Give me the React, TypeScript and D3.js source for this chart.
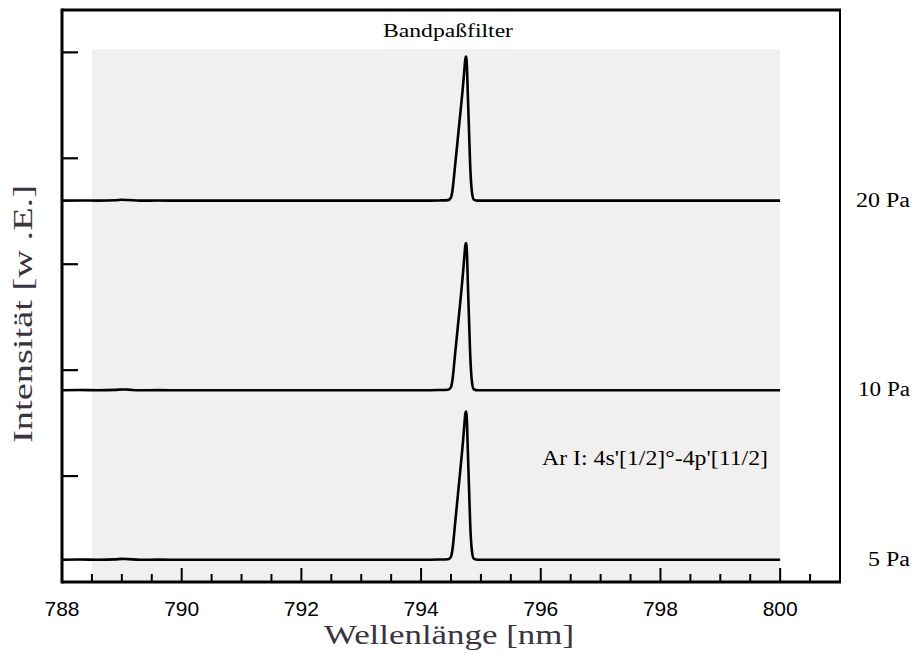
import React, { useEffect } from "react";
import * as d3 from "d3";

// Emission spectra around the Ar I 794.8 nm line at three pressures,
// drawn with a vertical offset per pressure.
const wavelengths = [
  788.0, 788.3, 788.6, 788.9, 789.0, 789.1, 789.3, 789.6, 790.0, 790.5, 791.0,
  791.5, 792.0, 792.5, 793.0, 793.5, 794.0, 794.3, 794.45, 794.5, 794.52,
  794.57, 794.63, 794.69, 794.72, 794.74, 794.75, 794.76, 794.77, 794.78,
  794.8, 794.82, 794.85, 794.88, 794.95, 795.5, 796.0, 796.5, 797.0, 797.5,
  798.0, 798.5, 799.0, 799.5, 800.0,
];

const pressures = ["5 Pa", "10 Pa", "20 Pa"];
const offsets = [0.21, 1.81, 3.6];

const intensity5Pa = [
  0.0, 0.002, 0.0, 0.004, 0.008, 0.006, 0.0, 0.001, 0.0, 0.0, 0.0, 0.0, 0.0,
  0.0, 0.0, 0.0, 0.0, 0.002, 0.005, 0.03, 0.08, 0.35, 0.7, 1.05, 1.25, 1.38,
  1.4, 1.37, 1.25, 1.05, 0.7, 0.35, 0.08, 0.01, 0.0, 0.0, 0.0, 0.0, 0.0, 0.0,
  0.0, 0.0, 0.0, 0.0, 0.0,
];
const intensity10Pa = [
  0.0, 0.002, 0.0, 0.004, 0.008, 0.006, 0.0, 0.001, 0.0, 0.0, 0.0, 0.0, 0.0,
  0.0, 0.0, 0.0, 0.0, 0.002, 0.005, 0.03, 0.08, 0.35, 0.69, 1.04, 1.24, 1.37,
  1.39, 1.36, 1.24, 1.04, 0.69, 0.35, 0.08, 0.01, 0.0, 0.0, 0.0, 0.0, 0.0, 0.0,
  0.0, 0.0, 0.0, 0.0, 0.0,
];
const intensity20Pa = [
  0.0, 0.002, 0.0, 0.004, 0.008, 0.006, 0.0, 0.001, 0.0, 0.0, 0.0, 0.0, 0.0,
  0.0, 0.0, 0.0, 0.0, 0.002, 0.005, 0.03, 0.08, 0.34, 0.68, 1.02, 1.21, 1.34,
  1.36, 1.33, 1.21, 1.02, 0.68, 0.34, 0.08, 0.01, 0.0, 0.0, 0.0, 0.0, 0.0, 0.0,
  0.0, 0.0, 0.0, 0.0, 0.0,
];
const seriesIntensities = [intensity5Pa, intensity10Pa, intensity20Pa];

// Band-pass filter window
const bandRange = [788.5, 800];
const bandTop = 5.03;

const xDomain = [788, 801];
const yDomain = [0, 5.4];
const xTickLabels = [788, 790, 792, 794, 796, 798, 800];
const xMinorTicks = d3.range(788.5, 801, 0.5);
const yTicks = [1, 2, 3, 4, 5];

const W = 916;
const H = 654;
const plot = { left: 62, right: 840, top: 10, bottom: 582 };

export default function App() {
  useEffect(() => {
    document.body.style.margin = "0";
  }, []);

  const x = d3.scaleLinear().domain(xDomain).range([plot.left, plot.right]);
  const y = d3.scaleLinear().domain(yDomain).range([plot.bottom, plot.top]);

  const line = d3
    .line<[number, number]>()
    .x((d) => x(d[0]))
    .y((d) => y(d[1]))
    .curve(d3.curveMonotoneX);

  const serif = "'Liberation Serif', 'Times New Roman', serif";
  const sans = "'Liberation Sans', Arial, sans-serif";
  const labelColor = "#3a3440";

  const pressureLabels = [
    { text: pressures[0], len: 42 },
    { text: pressures[1], len: 52 },
    { text: pressures[2], len: 54 },
  ];

  return (
    <svg width={W} height={H} style={{ display: "block", background: "#fff" }}>
      {/* filter pass band */}
      <rect
        x={x(bandRange[0])}
        y={y(bandTop)}
        width={x(bandRange[1]) - x(bandRange[0])}
        height={y(0) - y(bandTop)}
        fill="#f1f0ef"
      />

      {/* spectra */}
      {seriesIntensities.map((vals, i) => (
        <path
          key={pressures[i]}
          d={
            line(
              wavelengths.map((w, j) => [w, vals[j] + offsets[i]] as [number, number])
            ) || ""
          }
          fill="none"
          stroke="#000"
          strokeWidth={2.6}
          strokeLinejoin="round"
        />
      ))}

      {/* frame */}
      <line x1={plot.right} x2={plot.right} y1={plot.top} y2={plot.bottom} stroke="#000" strokeWidth={2} />
      <line x1={plot.left} x2={plot.right + 1} y1={plot.top} y2={plot.top} stroke="#000" strokeWidth={3} />
      <line x1={plot.left} x2={plot.right + 1} y1={plot.bottom} y2={plot.bottom} stroke="#000" strokeWidth={3} />
      <line x1={plot.left} x2={plot.left} y1={plot.top - 1.5} y2={plot.bottom + 1.5} stroke="#000" strokeWidth={3} />

      {/* x ticks (inward) */}
      {xMinorTicks.map((t) => {
        const major = Math.abs(t % 2) < 1e-9;
        return (
          <line
            key={t}
            x1={x(t)}
            x2={x(t)}
            y1={plot.bottom}
            y2={plot.bottom - (major ? 14 : 8)}
            stroke="#000"
            strokeWidth={2}
          />
        );
      })}
      {xTickLabels.map((t) => (
        <text
          key={t}
          x={x(t)}
          y={616}
          textAnchor="middle"
          fontFamily={sans}
          fontSize={21}
          fill="#000"
        >
          {t}
        </text>
      ))}

      {/* y ticks (inward, unlabeled) */}
      {yTicks.map((t) => (
        <line
          key={t}
          x1={plot.left}
          x2={plot.left + 16}
          y1={y(t)}
          y2={y(t)}
          stroke="#000"
          strokeWidth={2.2}
        />
      ))}

      {/* axis titles */}
      <text
        x={449}
        y={644}
        textAnchor="middle"
        fontFamily={serif}
        fontSize={27}
        fill={labelColor}
        textLength={250}
        lengthAdjust="spacingAndGlyphs"
      >
        Wellenlänge [nm]
      </text>
      <text
        transform={`translate(32, 314) rotate(-90)`}
        textAnchor="middle"
        fontFamily={serif}
        fontSize={27}
        fill={labelColor}
        textLength={258}
        lengthAdjust="spacingAndGlyphs"
      >
        Intensität  [w .E.]
      </text>

      {/* annotations */}
      <text
        x={448}
        y={37}
        textAnchor="middle"
        fontFamily={serif}
        fontSize={19}
        fill="#000"
        textLength={130}
        lengthAdjust="spacingAndGlyphs"
      >
        Bandpaßfilter
      </text>
      <text
        x={542}
        y={465}
        fontFamily={serif}
        fontSize={20}
        fill="#000"
        textLength={226}
        lengthAdjust="spacingAndGlyphs"
      >
        Ar I: 4s'[1/2]°-4p'[11/2]
      </text>

      {/* pressure labels beside each spectrum */}
      {pressureLabels.map((p, i) => (
        <text
          key={p.text}
          x={910}
          y={y(offsets[i]) + 6}
          textAnchor="end"
          fontFamily={serif}
          fontSize={20}
          fill="#000"
          textLength={p.len}
          lengthAdjust="spacingAndGlyphs"
        >
          {p.text}
        </text>
      ))}
    </svg>
  );
}
